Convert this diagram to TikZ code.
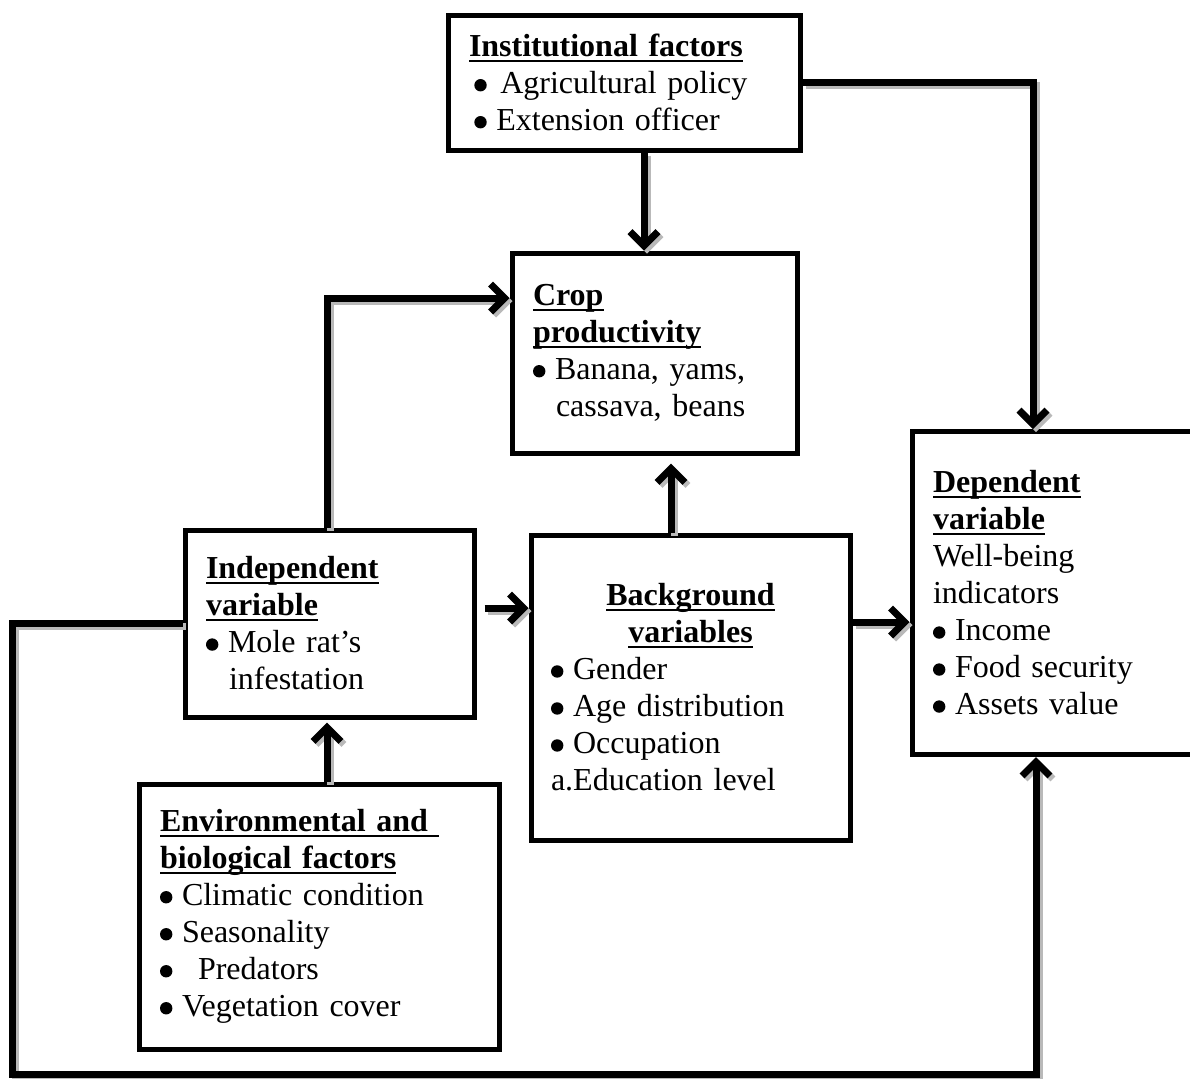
\documentclass[tikz,border=0pt]{standalone}
\usepackage{fontspec}
\setmainfont{Liberation Serif}
\usetikzlibrary{arrows.meta}
\newcommand{\hd}[1]{\textbf{\setbox0\hbox{#1}\rlap{\rule[-2.6pt]{\wd0}{1.1pt}}\box0}}
\newcommand{\bul}{\makebox[11pt][l]{\tikz[baseline=-4.2pt]\fill (0,0) circle (3.1pt);}}
\newcommand{\ind}{\hspace*{11.5pt}}
\newcommand{\link}[2][]{\draw[conn, shade, #1] #2; \draw[conn, #1] #2;}

\begin{document}
\begin{tikzpicture}[
  x=0.5pt, y=-0.5pt,
  every node/.style={font=\fontsize{16}{18.5}\selectfont},
  box/.style={draw, line width=2.5pt, inner sep=0pt, align=left},
  conn/.style={line width=3.5pt, -{Straight Barb[length=7pt,width=14pt]}},
  shade/.style={draw=gray!55, transform canvas={xshift=1.5pt,yshift=-1.5pt}}
]
\clip (0,0) rectangle (1190,1078);

% Top
\node[box, minimum width=176pt, minimum height=67.5pt, text width=155pt] (inst) at (624,82.5)
  {\hd{Institutional factors}\\ \,\bul\hspace{2pt}Agricultural policy\\ \,\bul Extension officer};

% Middle row
\node[box, minimum width=142.5pt, minimum height=100pt, text width=121.5pt] (crop) at (654.5,353)
  {\hd{Crop}\\ \hd{productivity}\\ \bul Banana, yams,\\ \ind cassava, beans};
\node[box, minimum width=144.5pt, minimum height=93.5pt, text width=123.5pt] (indep) at (329.5,623.5)
  {\hd{Independent}\\ \hd{variable}\\ \bul Mole rat’s\\ \ind infestation};
\node[box, minimum width=159.5pt, minimum height=152.5pt, text width=139.5pt] (back) at (690.5,687.5)
  {\makebox[139.5pt]{\hd{Background}}\\ \makebox[139.5pt]{\hd{variables}}\\ \bul Gender\\ \bul Age distribution\\ \bul Occupation\\ a.Education level};
\node[box, minimum width=144pt, minimum height=161.5pt, text width=123pt] (dep) at (1056,593)
  {\hd{Dependent}\\ \hd{variable}\\ Well-being\\ indicators\\ \bul Income\\ \bul Food security\\ \bul Assets value};

% Bottom row
\node[box, minimum width=180pt, minimum height=132.5pt, text width=159pt] (env) at (319,916.5)
  {\hd{Environmental and }\\ \hd{biological factors}\\ \bul Climatic condition\\ \bul Seasonality\\ \bul\ \,Predators\\ \bul Vegetation cover};

\coordinate (loop) at (12,1074);

% Arrows
\link{([xshift=10pt]inst.south) -- ([xshift=10pt]inst.south |- crop.north)}
\link{(inst.east) -| ([xshift=-11.5pt]dep.north)}
\link{([xshift=-1.25pt]indep.north) |- ([yshift=27.5pt]crop.west)}
\link{([xshift=4pt,yshift=7.75pt]indep.east) -- ([yshift=7.75pt]indep.east -| back.west)}
\link[shorten >=4pt]{([xshift=-9.75pt]back.north) -- ([xshift=-9.75pt]back.north |- crop.south)}
\link{([yshift=32.75pt]back.east) -- ([yshift=32.75pt]back.east -| dep.west)}
\link[shorten >=1.5pt]{([xshift=4pt]env.north) -- ([xshift=4pt]env.north |- indep.south)}
\link{(indep.west) -| (loop) -| ([xshift=-10pt]dep.south)}

\end{tikzpicture}
\end{document}
